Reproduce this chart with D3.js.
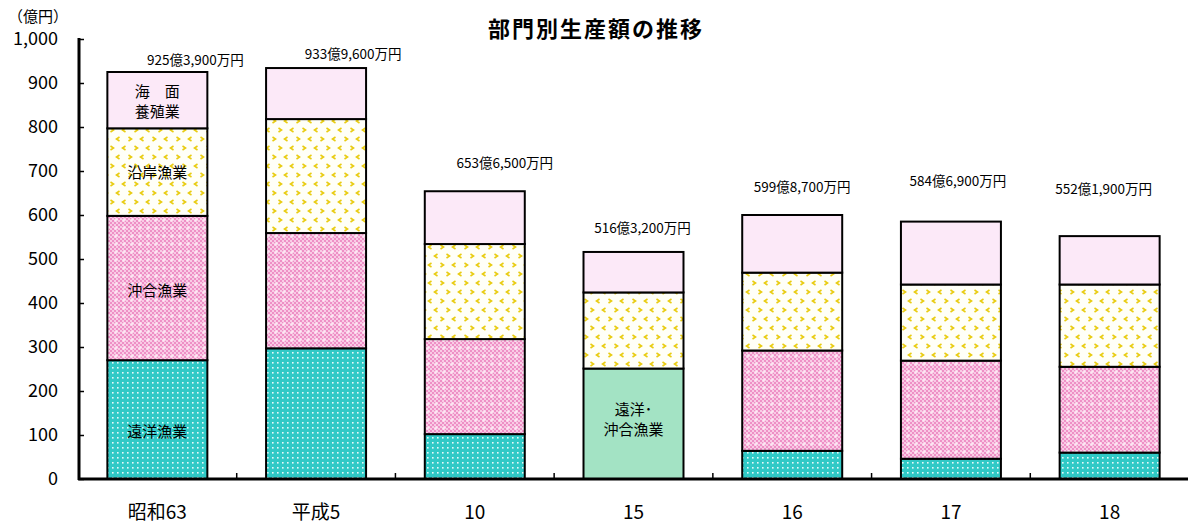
<!DOCTYPE html>
<html><head><meta charset="utf-8">
<script src="https://cdn.jsdelivr.net/npm/d3@7/dist/d3.min.js"></script>
<style>
html,body{margin:0;padding:0;background:#fff;}
text{font-family:"Noto Sans CJK JP","Noto Sans",sans-serif;fill:#000;}
</style></head>
<body><svg id="chart" width="1188" height="526"></svg>
<script>
// ---- data ----
const categories = ["昭和63","平成5","10","15","16","17","18"];
const enyo      = [270, 297, 102,   0,  64,  46,  60];   // 遠洋漁業
const okiai     = [328, 262, 216,   0, 228, 223, 195];   // 沖合漁業
const enyoOkiai = [  0,   0,   0, 251,   0,   0,   0];   // 遠洋・沖合漁業
const engan     = [199, 259, 216, 173, 177, 173, 187];   // 沿岸漁業
const yoshoku   = [128, 116, 120,  92, 131, 143, 110];   // 海面養殖業
const totals    = [925.39, 933.96, 653.65, 516.32, 599.87, 584.69, 552.19];
const totalLabels = ["925億3,900万円","933億9,600万円","653億6,500万円","516億3,200万円","599億8,700万円","584億6,900万円","552億1,900万円"];
const yTicks = [0,100,200,300,400,500,600,700,800,900,1000];
const seriesKeys = ["遠洋漁業","沖合漁業","遠洋・沖合漁業","沿岸漁業","海面養殖業"];

// ---- layout ----
const svg = d3.select("#chart");
const x0 = 78, x1 = 1189, yBase = 479, yTop = 39;
const x = d3.scaleBand().domain(categories).range([x0, x1]).paddingInner(0.37).paddingOuter(0.185);
const y = d3.scaleLinear().domain([0, 1000]).range([yBase, yTop]);

const defs = svg.append("defs");
// teal dotted
let p = defs.append("pattern").attr("id","pEnyo").attr("patternUnits","userSpaceOnUse").attr("width",5).attr("height",5);
p.append("rect").attr("width",5).attr("height",5).attr("fill","#30C9C6");
p.append("rect").attr("x",2).attr("y",2).attr("width",1.6).attr("height",1.6).attr("fill","#E6FAFA");
// pink checker
p = defs.append("pattern").attr("id","pOkiai").attr("patternUnits","userSpaceOnUse").attr("width",8).attr("height",8);
p.append("rect").attr("width",8).attr("height",8).attr("fill","#F9CBE5");
for (let i=0;i<4;i++) for (let j=0;j<4;j++) if ((i+j)%2===0)
  p.append("rect").attr("x",i*2).attr("y",j*2).attr("width",2).attr("height",2).attr("fill","#EE90C6");
p.append("rect").attr("x",3.5).attr("y",2).attr("width",1).attr("height",4).attr("fill","#FFF4FA");
p.append("rect").attr("x",2).attr("y",3.5).attr("width",4).attr("height",1).attr("fill","#FFF4FA");
// yellow chevrons
p = defs.append("pattern").attr("id","pEngan").attr("patternUnits","userSpaceOnUse").attr("width",24).attr("height",18);
p.append("rect").attr("width",24).attr("height",18).attr("fill","#FFFFF8");
const chev = (cx, cy, dir) => {
  const d = dir<0 ? `M${cx+1.5},${cy-2} L${cx-1.5},${cy} L${cx+1.5},${cy+2}` : `M${cx-1.5},${cy-2} L${cx+1.5},${cy} L${cx-1.5},${cy+2}`;
  p.append("path").attr("d",d).attr("fill","none").attr("stroke","#E9CC10").attr("stroke-width",1.6);
};
chev(4,4,-1); chev(16,4,1); chev(10,13,1); chev(22,13,-1);

const fills = {
  "遠洋漁業":"url(#pEnyo)",
  "沖合漁業":"url(#pOkiai)",
  "遠洋・沖合漁業":"#A3E3C4",
  "沿岸漁業":"url(#pEngan)",
  "海面養殖業":"#FCE9F8"
};

const rows = categories.map((c,i)=>({cat:c,"遠洋漁業":enyo[i],"沖合漁業":okiai[i],"遠洋・沖合漁業":enyoOkiai[i],"沿岸漁業":engan[i],"海面養殖業":yoshoku[i]}));
const stacked = d3.stack().keys(seriesKeys)(rows);

// bars
stacked.forEach(s=>{
  svg.append("g").selectAll("rect").data(s.filter(d=>d[1]-d[0]>0)).join("rect")
    .attr("x", d=>x(d.data.cat))
    .attr("y", d=>y(d[1]))
    .attr("width", x.bandwidth())
    .attr("height", d=>y(d[0])-y(d[1]))
    .attr("fill", fills[s.key])
    .attr("stroke","#000").attr("stroke-width",2);
});

// y axis
const yAxis = d3.axisRight(y).tickValues(yTicks).tickSize(5).tickFormat("");
const ga = svg.append("g").attr("transform",`translate(${x0+1},0)`).call(yAxis);
ga.select(".domain").remove();
ga.selectAll(".tick line").attr("stroke","#000").attr("stroke-width",1.5);
svg.append("line").attr("x1",x0+1).attr("x2",x0+1).attr("y1",y(1000)-1).attr("y2",yBase+1).attr("stroke","#000").attr("stroke-width",3);
svg.append("g").selectAll("text").data(yTicks).join("text")
  .attr("x",58).attr("y",d=>y(d)).attr("dy","0.36em").attr("text-anchor","end")
  .style("font-size","18px").text(d=>d3.format(",")(d));

// x baseline & ticks
const bounds = categories.slice(1).map(c=>x(c) - x.step()*x.paddingInner()/2);
svg.append("g").selectAll("line").data(bounds).join("line")
  .attr("x1",d=>d).attr("x2",d=>d).attr("y1",yBase-6).attr("y2",yBase)
  .attr("stroke","#000").attr("stroke-width",1.5);
svg.append("line").attr("x1",x0).attr("x2",1188).attr("y1",yBase).attr("y2",yBase).attr("stroke","#000").attr("stroke-width",3);
svg.append("g").selectAll("text").data(categories).join("text")
  .attr("x",d=>x(d)+x.bandwidth()/2).attr("y",512).attr("dy","0.36em").attr("text-anchor","middle")
  .style("font-size","19px").text(d=>d);

// total labels
const labelNudge = [[38,12],[37,14],[30,28],[9,24],[10,28],[7,41],[-6,47]];
svg.append("g").selectAll("text").data(categories).join("text")
  .attr("x",(d,i)=>x(d)+x.bandwidth()/2+labelNudge[i][0])
  .attr("y",(d,i)=>y(totals[i])-labelNudge[i][1])
  .attr("dy","0.36em").attr("text-anchor","middle")
  .style("font-size","13.5px").text((d,i)=>totalLabels[i]);

// in-bar series labels
const segLabels = [
  {key:"海面養殖業", cat:0, lines:["海　面","養殖業"], dy:1},
  {key:"沿岸漁業", cat:0, lines:["沿岸漁業"], dy:0},
  {key:"沖合漁業", cat:0, lines:["沖合漁業"], dy:3},
  {key:"遠洋漁業", cat:0, lines:["遠洋漁業"], dy:12},
  {key:"遠洋・沖合漁業", cat:3, lines:["遠洋･","沖合漁業"], dy:-4}
];
segLabels.forEach(l=>{
  const s = stacked.find(t=>t.key===l.key)[l.cat];
  const cx = x(categories[l.cat]) + x.bandwidth()/2;
  const cy = (y(s[0])+y(s[1]))/2 + l.dy;
  const lh = 20;
  l.lines.forEach((t,j)=>{
    svg.append("text").attr("x",cx).attr("y",cy + (j-(l.lines.length-1)/2)*lh)
      .attr("dy","0.36em").attr("text-anchor","middle").style("font-size","15px").text(t);
  });
});

// title & unit
svg.append("text").attr("x",596).attr("y",29).attr("dy","0.36em").attr("text-anchor","middle")
  .style("font-size","22px").style("font-weight","bold").style("letter-spacing","2px").text("部門別生産額の推移");
svg.append("text").attr("x",8).attr("y",17).attr("dy","0.36em").style("font-size","15px").text("（億円）");
</script></body></html>
